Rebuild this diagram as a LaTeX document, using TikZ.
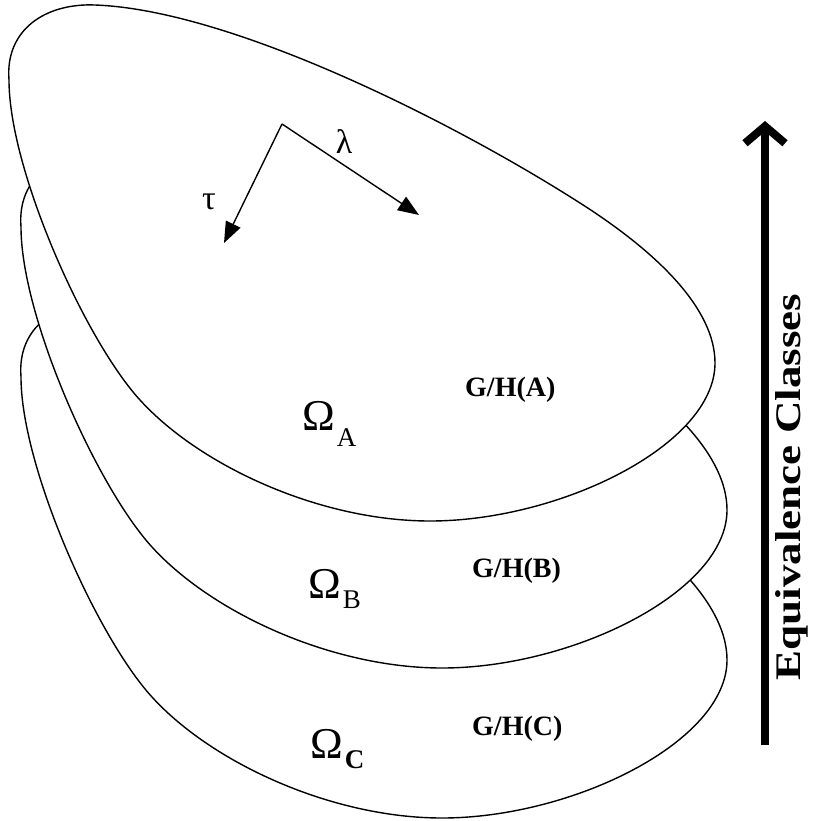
\documentclass[tikz,border=0pt]{standalone}
\usepackage{fontspec}
\setmainfont{Liberation Serif}
\usetikzlibrary{arrows.meta}
\begin{document}
\begin{tikzpicture}[x=1pt,y=-1pt,
  blob/.style={draw=black, fill=white, line width=1.4pt},
  vec/.style={line width=1.4pt, -{Triangle[length=21pt,width=16pt]}},
  bigarrow/.style={line width=8pt, -{Straight Barb[length=17pt,width=40pt]}},
  greek/.style={inner sep=0pt, font=\fontsize{34}{34}\selectfont},
  ghlabel/.style={inner sep=0pt, anchor=base west, font=\fontsize{28}{28}\bfseries\selectfont},
  omlabel/.style={inner sep=0pt, anchor=base west, font=\fontsize{44}{44}\selectfont},
  eqlabel/.style={rotate=90, inner sep=0pt, xscale=1.25, font=\fontsize{36}{36}\bfseries\selectfont}]
\useasboundingbox (0,0) rectangle (813,821);
% stacked layers, drawn back to front
\foreach \sx/\sy in {12/297, 12/147, 0/0}{
  \draw[blob, shift={(\sx,\sy)}]
    (9,80) .. controls (5,30) and (45,3) .. (95,5)
    .. controls (230,10) and (450,120) .. (580,203)
    .. controls (660,254) and (715,310) .. (715,363)
    .. controls (715,445) and (560,521) .. (430,521)
    .. controls (320,521) and (200,466) .. (140,400)
    .. controls (85,340) and (9,170) .. (9,80) -- cycle;
}
% tau / lambda vectors
\coordinate (o) at (282,124);
\coordinate (tt) at (224,243);
\coordinate (lt) at (419,215);
\draw[vec] (o) -- (tt);
\draw[vec] (o) -- (lt);
\node[greek] (tau) at (209,202) {τ};
\node[greek] (lam) at (344,142) {λ};
% labels
\node[omlabel] (oma) at (302,430) {Ω\hspace{2pt}\fontsize{27}{27}\selectfont\raisebox{-16pt}{A}};
\node[omlabel] (omb) at (308,598) {Ω\hspace{2pt}\fontsize{27}{27}\selectfont\raisebox{-10pt}{B}};
\node[omlabel] (omc) at (310,758) {Ω\hspace{2pt}\fontsize{27}{27}\bfseries\selectfont\raisebox{-10pt}{C}};
\node[ghlabel] (gha) at (465,396) {G/H(A)};
\node[ghlabel] (ghb) at (472,577) {G/H(B)};
\node[ghlabel] (ghc) at (472,735) {G/H(C)};
% equivalence classes arrow
\coordinate (eb) at (765,745);
\coordinate (et) at (765,121);
\draw[bigarrow] (eb) -- (et);
\node[eqlabel] (eq) at (792,487) {Equivalence Classes};
\end{tikzpicture}
\end{document}
